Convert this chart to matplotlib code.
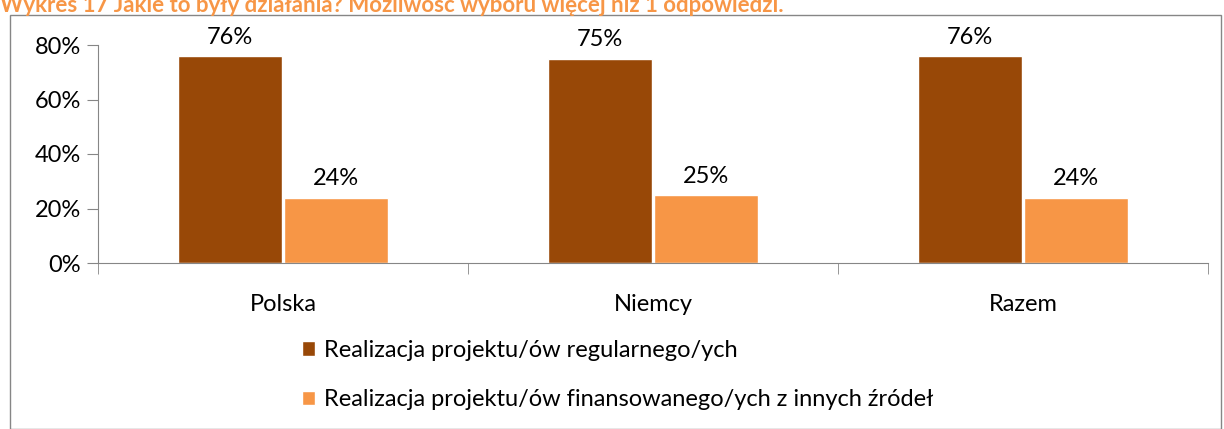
import matplotlib.pyplot as plt
from matplotlib.patches import Rectangle
from matplotlib.ticker import PercentFormatter

categories = ['Polska', 'Niemcy', 'Razem']
regular = [0.76, 0.75, 0.76]
other = [0.24, 0.25, 0.24]
series_names = ['Realizacja projektu/ów regularnego/ych',
                'Realizacja projektu/ów finansowanego/ych z innych źródeł']
title = 'Wykres 17 Jakie to były działania? Możliwość wyboru więcej niż 1 odpowiedzi.'

dark = '#984807'
light = '#F79646'
plt.rcParams['font.family'] = ['Lato', 'DejaVu Sans']

fig = plt.figure(figsize=(12.24, 4.29), dpi=100)

# chart frame
fig.patches.append(Rectangle((10 / 1224, 0), 1211 / 1224, 1 - 15 / 429,
                             transform=fig.transFigure, fill=False,
                             edgecolor='#868686', lw=1))
fig.text(0.0, 1 - 6 / 429, title, color=light, fontsize=16, fontweight='bold',
         ha='left', va='center')

ax = fig.add_axes([98 / 1224, 1 - 263 / 429, 1110 / 1224, 218 / 429])
x = range(len(categories))
w = 0.283
off = 0.143
b1 = ax.bar([i - off for i in x], regular, w, color=dark, edgecolor='white', lw=1)
b2 = ax.bar([i + off for i in x], other, w, color=light, edgecolor='white', lw=1)
for bars, vals in ((b1, regular), (b2, other)):
    for r, v in zip(bars, vals):
        ax.text(r.get_x() + r.get_width() / 2, v + 0.03, f'{v:.0%}',
                ha='center', va='bottom', fontsize=17)

ax.set_xlim(-0.5, 2.5)
ax.set_ylim(0, 0.8)
ax.set_yticks([0, 0.2, 0.4, 0.6, 0.8])
ax.yaxis.set_major_formatter(PercentFormatter(1.0, decimals=0))
ax.set_xticks(list(x))
ax.set_xticklabels(categories)
ax.set_xticks([-0.5, 0.5, 1.5, 2.5], minor=True)
ax.tick_params(axis='x', which='major', length=0, pad=22, labelsize=17)
ax.tick_params(axis='x', which='minor', length=8, color='#868686')
ax.tick_params(axis='y', length=8, color='#868686', labelsize=17, pad=4)
for s in ('top', 'right'):
    ax.spines[s].set_visible(False)
for s in ('left', 'bottom'):
    ax.spines[s].set_color('#868686')

leg = fig.legend([b1, b2], series_names, loc='upper left',
                 bbox_to_anchor=(290 / 1224, 1 - 328 / 429), frameon=False,
                 fontsize=17, handlelength=0.55, handleheight=0.55,
                 handletextpad=0.4, labelspacing=1.2, borderpad=0)

fig.savefig('out.png', dpi=100)
